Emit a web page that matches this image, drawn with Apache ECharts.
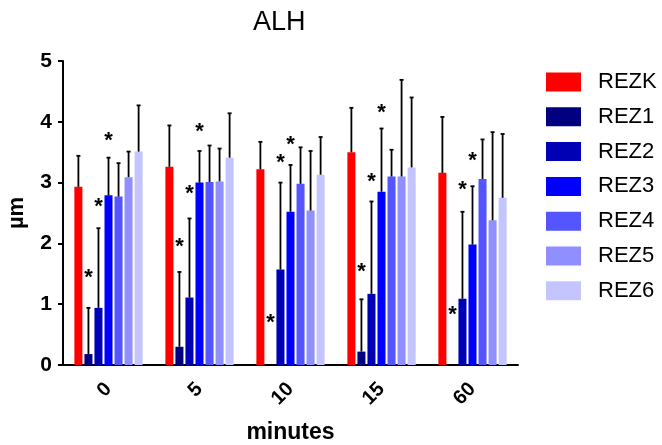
<!DOCTYPE html>
<html><head><meta charset="utf-8">
<script src="https://cdn.jsdelivr.net/npm/echarts@6/dist/echarts.min.js"></script>
<style>html,body{margin:0;padding:0;background:#fff}#c{width:662px;height:445px}</style>
</head><body><div id="c"></div>
<script>
var categories = ['0', '5', '10', '15', '60'];
var seriesNames = ['REZK', 'REZ1', 'REZ2', 'REZ3', 'REZ4', 'REZ5', 'REZ6'];
var colors = ['#FF0000', '#000080', '#0000B4', '#0000FF', '#5555FF', '#8F8FFF', '#C4C4FF'];
var REZK = [2.93, 3.26, 3.22, 3.50, 3.16];
var REZ1 = [0.18, 0.30, null, 0.22, null];
var REZ2 = [0.94, 1.11, 1.57, 1.17, 1.09];
var REZ3 = [2.79, 3.00, 2.52, 2.85, 1.98];
var REZ4 = [2.77, 3.01, 2.98, 3.10, 3.06];
var REZ5 = [3.09, 3.02, 2.54, 3.10, 2.38];
var REZ6 = [3.51, 3.41, 3.13, 3.25, 2.75];
var REZK_sd = [0.51, 0.68, 0.45, 0.73, 0.92];
var REZ1_sd = [0.76, 1.23, null, 0.86, null];
var REZ2_sd = [1.31, 1.30, 1.43, 1.52, 1.43];
var REZ3_sd = [0.62, 0.52, 0.77, 1.04, 0.96];
var REZ4_sd = [0.55, 0.60, 0.60, 0.44, 0.65];
var REZ5_sd = [0.42, 0.54, 0.98, 1.59, 1.45];
var REZ6_sd = [0.76, 0.73, 0.62, 1.15, 1.05];
// significance star positions (y value) for REZ1, REZ2, REZ3
var REZ1_star = [1.52, 2.02, 0.78, 1.62, 0.90];
var REZ2_star = [2.69, 2.90, 3.40, 3.10, 2.96];
var REZ3_star = [3.77, 3.92, 3.70, 4.23, 3.44];
var yTicks = [0, 1, 2, 3, 4, 5];

var values = [REZK, REZ1, REZ2, REZ3, REZ4, REZ5, REZ6];
var sds = [REZK_sd, REZ1_sd, REZ2_sd, REZ3_sd, REZ4_sd, REZ5_sd, REZ6_sd];
var stars = {1: REZ1_star, 2: REZ2_star, 3: REZ3_star};

var CAT_GAP = 0.25, BAR_GAP = 0.25, N = seriesNames.length;
function barOffset(bandW, i) {
  var usable = bandW * (1 - CAT_GAP);
  var w = usable / (N + (N - 1) * BAR_GAP);
  return -usable / 2 + i * w * (1 + BAR_GAP) + w / 2;
}
var FONT = 'Arial, "Liberation Sans", sans-serif';

var errData = [], starData = [];
for (var s = 0; s < N; s++) {
  for (var c = 0; c < categories.length; c++) {
    if (values[s][c] != null && sds[s][c] != null) errData.push([c, values[s][c], values[s][c] + sds[s][c], s]);
  }
}
Object.keys(stars).forEach(function (k) {
  var arr = stars[k];
  for (var c = 0; c < arr.length; c++) starData.push([c, arr[c], +k]);
});

var series = seriesNames.map(function (n, i) {
  return {
    name: n, type: 'bar', data: values[i],
    barCategoryGap: '25%', barGap: '25%',
    itemStyle: {color: colors[i]}
  };
});
series.push({
  type: 'custom', silent: true, z: 3,
  renderItem: function (params, api) {
    var c = api.value(0), s = api.value(3);
    var bw = api.size([1, 0])[0];
    var p0 = api.coord([c, api.value(1)]);
    var p1 = api.coord([c, api.value(2)]);
    var x = p0[0] + barOffset(bw, s);
    return {type: 'group', children: [
      {type: 'line', shape: {x1: x, y1: p0[1], x2: x, y2: p1[1]}, style: {stroke: '#000', lineWidth: 1.8}},
      {type: 'line', shape: {x1: x - 2, y1: p1[1], x2: x + 2, y2: p1[1]}, style: {stroke: '#000', lineWidth: 1.8}}
    ]};
  },
  data: errData
});
series.push({
  type: 'custom', silent: true, z: 4,
  renderItem: function (params, api) {
    var c = api.value(0), s = api.value(2);
    var bw = api.size([1, 0])[0];
    var p = api.coord([c, api.value(1)]);
    return {type: 'text', x: p[0] + barOffset(bw, s), y: p[1] + 5,
      style: {text: '*', fontSize: 22, fontWeight: 'bold', fontFamily: FONT, fill: '#000', align: 'center', verticalAlign: 'middle'}};
  },
  data: starData
});

var chart = echarts.init(document.getElementById('c'));
chart.setOption({
  animation: false,
  backgroundColor: '#fff',
  title: {text: 'ALH', left: 248, top: 4, textStyle: {fontFamily: FONT, fontSize: 27, fontWeight: 'normal', color: '#000'}},
  legend: {
    orient: 'vertical', left: 541, top: 66, itemWidth: 35, itemHeight: 19, itemGap: 12.8,
    icon: 'rect', data: seriesNames,
    textStyle: {fontFamily: FONT, fontSize: 22, color: '#000', padding: [0, 0, 0, 12]}
  },
  grid: {left: 63, top: 61, width: 455, bottom: 80, containLabel: false, outerBoundsMode: 'none'},
  xAxis: {
    type: 'category', data: categories,
    name: 'minutes', nameLocation: 'middle', nameGap: 56,
    nameTextStyle: {fontFamily: FONT, fontSize: 23, fontWeight: 'bold', color: '#000'},
    axisLine: {lineStyle: {color: '#000', width: 2}},
    axisTick: {alignWithLabel: true, length: 6, lineStyle: {width: 2, color: '#000'}},
    axisLabel: {rotate: 45, fontFamily: FONT, fontSize: 20, fontWeight: 'bold', color: '#000', margin: 21}
  },
  yAxis: {
    type: 'value', min: yTicks[0], max: yTicks[yTicks.length - 1], interval: 1,
    name: 'µm', nameLocation: 'middle', nameGap: 35, nameRotate: 90,
    nameTextStyle: {fontFamily: FONT, fontSize: 22, fontWeight: 'bold', color: '#000'},
    axisLine: {show: true, lineStyle: {color: '#000', width: 2}},
    axisTick: {show: true, length: 5, lineStyle: {width: 2, color: '#000'}},
    axisLabel: {fontFamily: FONT, fontSize: 21, fontWeight: 'bold', color: '#000', margin: 11},
    splitLine: {show: false}
  },
  series: series
});
</script></body></html>
